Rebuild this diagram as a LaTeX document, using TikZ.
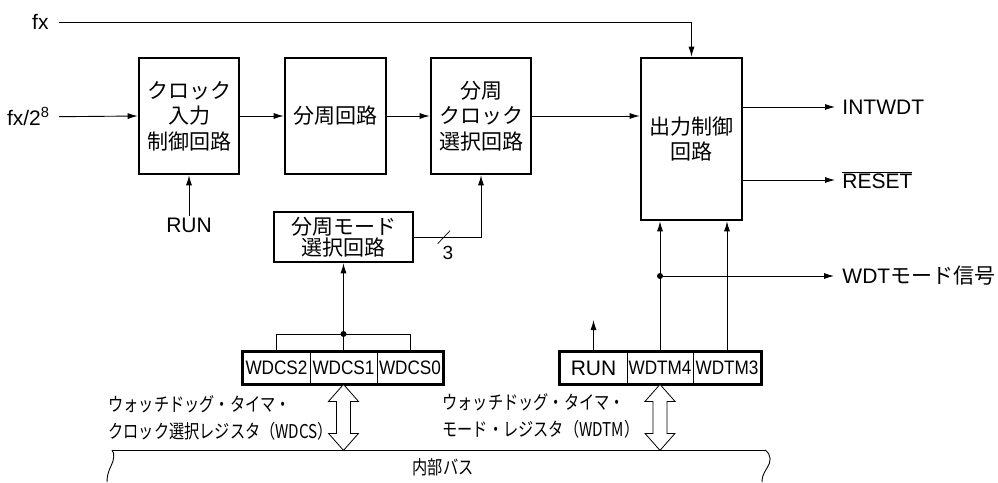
\documentclass[tikz,border=0pt]{standalone}
\usepackage{fontspec}
\setmainfont{Liberation Sans}
\newfontfamily\jp{Noto Sans CJK JP}
\newfontfamily\jpn[FakeStretch=0.8]{Noto Sans CJK JP}
\newfontfamily\regf[FakeStretch=0.88]{Liberation Sans}
\usetikzlibrary{arrows.meta,calc}
\tikzset{
  arr/.style={-{Latex[length=10pt,width=6pt]}},
  blk/.style={draw,line width=2.6pt,align=center,inner sep=0pt,
    font=\fontsize{21}{25.5}\selectfont\jp},
  lbl/.style={inner sep=0pt,font=\fontsize{21}{25}\selectfont},
  cell/.style={draw,line width=0.8pt,minimum height=32pt,inner sep=0pt,
    font=\fontsize{19.5}{20}\selectfont\regf},
  reg/.style={line width=2.4pt},
  note/.style={inner sep=0pt,align=left,font=\fontsize{19}{27}\selectfont\jpn},
  dot/.style={circle,fill,inner sep=0pt,minimum size=6pt},
  dbl/.style={draw,line width=0.8pt,fill=white,line join=miter}
}
\begin{document}
\begin{tikzpicture}[x=1pt,y=-1pt,line width=0.9pt]
\useasboundingbox (0,0) rectangle (998,482);
% blocks
\node[blk,minimum width=100pt,minimum height=116pt] (b1) at (189,116) {クロック\\入力\\制御回路};
\node[blk,minimum width=101pt,minimum height=116pt] (b2) at (335.5,116) {分周回路};
\node[blk,minimum width=100pt,minimum height=116pt] (b3) at (481,116) {分周\\クロック\\選択回路};
\node[blk,minimum width=101pt,minimum height=162pt] (out) at (691.5,139) {出力制御\\回路};
\node[blk,minimum width=139pt,minimum height=50pt,font=\fontsize{21}{20.5}\selectfont\jp] (b4) at (343.5,237) {分周モード\\選択回路};
% input labels
\node[lbl,anchor=east] (fx) at (49,22) {fx};
\node[lbl,anchor=east] (fx8) at (50,116.7) {fx/2\textsuperscript{8}};
\coordinate (fxs) at (59,22);
\coordinate (fx8s) at (59,116.7);
\draw[arr] (fxs) -| (out.north);
\draw[arr] (fx8s) -- (b1.west);
\draw[arr] (b1.east) -- (b2.west);
\draw[arr] (b2.east) -- (b3.west);
\draw[arr] (b3.east) -- (b3.east -| out.west);
% RUN
\node[lbl] (run1) at (189,225.5) {RUN};
\draw[arr] (run1.north) ++(0,-2) -- (b1.south);
% 3-bit
\draw[arr] (b4.east) -| (b3.south);
\coordinate (s1) at (437.7,243.7);
\coordinate (s2) at (450,230.7);
\draw[line width=0.7pt] (s1) -- (s2);
\node[lbl,font=\fontsize{19}{20}\selectfont] (three) at (448,253) {3};
% outputs
\node[lbl,anchor=west] (intwdt) at (842,107) {INTWDT};
\node[lbl,anchor=west] (reset) at (842,180) {$\overline{\hbox{RESET}}$};
\node[lbl,anchor=west] (wdtm) at (842,276) {WDT{\jp モード信号}};
\draw[arr] (out.east |- intwdt.west) -- ([xshift=-7pt]intwdt.west);
\draw[arr] (out.east |- 0,180) -- ([xshift=-7pt]reset.west |- 0,180);
% WDCS register
\node[cell,minimum width=67pt] (w2) at (276.5,368) {WDCS2};
\node[cell,minimum width=67pt] (w1) at (343.5,368) {WDCS1};
\node[cell,minimum width=66pt] (w0) at (410,368) {WDCS0};
\draw[reg] (w2.north west) rectangle (w0.south east);
\coordinate (d1) at (343.5,334);
\draw (w2.north) -- (w2.north |- d1) -- (w0.north |- d1) -- (w0.north);
\draw[arr] (w1.north) -- (b4.south);
\node[dot] (dot1) at (d1) {};
% WDTM register
\node[cell,minimum width=67pt,font=\fontsize{21}{22}\selectfont] (mr) at (593.5,368) {RUN};
\node[cell,minimum width=66pt] (m4) at (660,368) {WDTM4};
\node[cell,minimum width=68pt] (m3) at (727,368) {WDTM3};
\draw[reg] (mr.north west) rectangle (m3.south east);
\coordinate (runtip) at (593.5,320);
\draw[arr] (mr.north) -- (runtip);
\draw[arr] (m4.north) -- (m4.north |- out.south);
\draw[arr] (m3.north) -- (m3.north |- out.south);
\coordinate (d2) at (660,276);
\node[dot] (dot2) at (d2) {};
\draw[arr] (d2) -- ([xshift=-8pt]wdtm.west);
% bus
\coordinate (busL) at (112,450);
\coordinate (busR) at (765,450);
\draw (busL) -- (busR);
\draw (busL) .. controls (115,454) and (114,460) .. (111,466) .. controls (108,472) and (107,477) .. (107,482);
\draw (busR) .. controls (772,455) and (771,462) .. (767,468) .. controls (763,474) and (762,478) .. (762,482);
\node[note] (busname) at (443,467) {内部バス};
% double arrows
\draw[dbl] (w1.south) -- ++(15,17) -- ++(-8,0) -- ++(0,32) -- ++(8,0) -- ++(-15,17) -- ++(-15,-17) -- ++(8,0) -- ++(0,-32) -- ++(-8,0) -- cycle;
\draw[dbl] (m4.south) -- ++(15,17) -- ++(-8,0) -- ++(0,32) -- ++(8,0) -- ++(-15,17) -- ++(-15,-17) -- ++(8,0) -- ++(0,-32) -- ++(-8,0) -- cycle;
% register notes
\node[note,anchor=north west] (n1) at (108,395) {ウォッチドッグ・タイマ・\\クロック選択レジスタ（WDCS）};
\node[note,anchor=north west] (n2) at (442,393) {ウォッチドッグ・タイマ・\\モード・レジスタ（WDTM）};
\end{tikzpicture}
\end{document}
